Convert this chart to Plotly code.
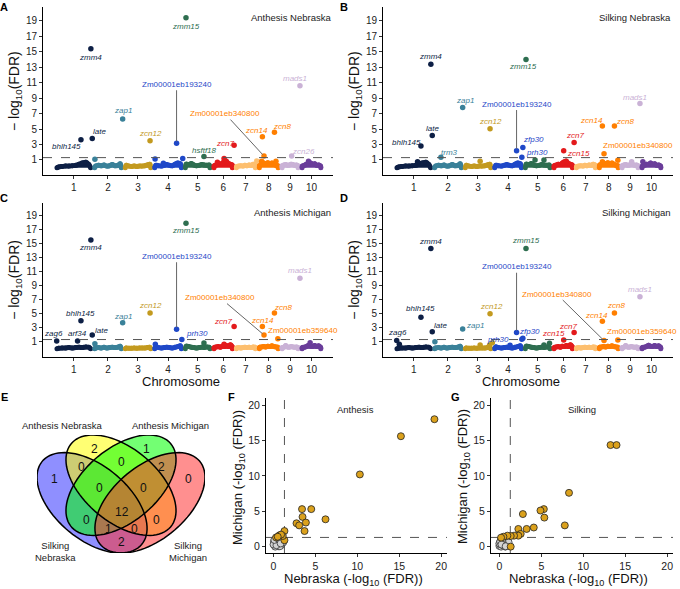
import numpy as np
import plotly.graph_objects as go

FONT = 'Liberation Sans, Arial, sans-serif'
W, H = 680, 589

# ---- chromosomes (Mb) ----
chrom_len = [300, 244, 234, 244, 228, 178, 183, 181, 159, 181]
chrom_col = ['#0D1F45', '#3A8199', '#C39A1F', '#1F48C8', '#2E6E50',
             '#E31A1C', '#FDBF6F', '#FF7F00', '#CAB2D6', '#6A3D9A']
chrom_lab = ['1', '2', '3', '4', '5', '6', '7', '8', '9', '10']

# ---- candidate genes: chromosome, position (Mb) ----
gene_names = ['zag6', 'arf34', 'bhlh145', 'zmm4', 'late', 'trm3', 'zap1', 'zcn12',
              'Zm00001eb193240', 'prh30', 'zfp30', 'zmm15', 'hsftf18', 'zcn15', 'zcn7',
              'zcn14', 'Zm00001eb340800', 'zcn8', 'Zm00001eb359640', 'zcn26', 'mads1']
gene_chr = [1, 1, 1, 1, 1, 2, 2, 3, 4, 4, 4, 5, 5, 6, 6, 8, 8, 8, 8, 9, 9]
gene_pos = [14, 180, 207, 286, 297, 66, 239, 213, 190, 232, 240, 21, 164, 93, 176,
            40, 53, 136, 163, 92, 158]

# -log10(FDR) of each gene per environment (None = not shown)
fdr_an_neb = [None, None, 3.6, 15.4, 3.76, None, 6.3, 3.5, 3.15, None, None, 19.4, 1.43,
              None, 2.9, 4.0, 1.5, 4.6, None, 1.5, 10.6]
fdr_si_neb = [None, None, 2.8, 13.4, 4.15, 1.35, 7.8, 5.05, 2.2, 1.35, 2.6, 14.0, None,
              2.2, 3.25, 5.4, 1.8, 5.4, None, None, 8.3]
fdr_an_mich = [1.1, 1.1, 4.0, 15.5, 1.95, None, 3.7, 5.1, 2.76, 1.3, None, 17.9, None,
               None, 3.15, 3.15, 1.95, 5.1, 1.43, None, 10.05]
fdr_si_mich = [1.15, None, 4.5, 14.3, 2.4, None, 2.8, 5.0, 2.3, 1.35, 1.5, 14.3, None,
               1.25, 2.3, 3.9, 1.15, 5.1, 1.25, None, 7.4]

# other SNPs poking out of the cloud
minor_an_neb_chr = [2, 4, 4, 4, 6, 6, 7, 8, 8, 10]
minor_an_neb_pos = [18, 19, 85, 239, 43, 96, 178, 34, 148, 67]
minor_an_neb_val = [1.1, 1.13, 0.57, 1.2, 0.7, 1.17, 0.87, 0.83, 0.83, 0.83]
minor_si_neb_chr = [1, 3, 5, 5, 8, 8, 9, 10]
minor_si_neb_pos = [180, 134, 93, 164, 40, 163, 92, 22]
minor_si_neb_val = [0.78, 0.83, 1.0, 1.0, 0.75, 0.96, 0.75, 0.78]
minor_an_mich_chr = [2, 4, 5, 6, 10]
minor_an_mich_pos = [18, 21, 164, 96, 80]
minor_an_mich_val = [0.7, 0.62, 0.81, 0.62, 0.86]
minor_si_mich_chr = [1, 2, 3, 3, 3, 4, 5, 5]
minor_si_mich_pos = [35, 18, 134, 209, 231, 138, 164, 208]
minor_si_mich_val = [0.62, 1.0, 0.52, 0.52, 0.86, 0.48, 0.52, 0.76]

# top of the non-significant SNP cloud along each chromosome
bg_frac = [0.1, 0.19, 0.28, 0.37, 0.46, 0.55, 0.64, 0.73, 0.82, 0.9]
bg_neb = [
    [0.1, 0.15, 0.2, 0.2, 0.25, 0.3, 0.45, 0.6, 0.7, 0.4],
    [0.2, 0.3, 0.25, 0.35, 0.2, 0.25, 0.4, 0.25, 0.3, 0.5],
    [0.3, 0.2, 0.15, 0.2, 0.15, 0.2, 0.2, 0.25, 0.35, 0.45],
    [0.3, 0.25, 0.2, 0.3, 0.4, 0.3, 0.25, 0.45, 0.6, 0.5],
    [0.45, 0.4, 0.55, 0.35, 0.25, 0.3, 0.4, 0.35, 0.3, 0.35],
    [0.25, 0.35, 0.45, 0.4, 0.6, 0.75, 0.85, 0.55, 0.45, 0.35],
    [0.15, 0.2, 0.25, 0.2, 0.3, 0.25, 0.35, 0.3, 0.45, 0.35],
    [0.35, 0.45, 0.6, 0.5, 0.65, 0.5, 0.6, 0.45, 0.3, 0.25],
    [0.25, 0.35, 0.4, 0.3, 0.35, 0.45, 0.4, 0.3, 0.35, 0.25],
    [0.2, 0.3, 0.45, 0.4, 0.6, 0.45, 0.5, 0.3, 0.35, 0.2],
]
bg_mich = [
    [0.05, 0.1, 0.1, 0.15, 0.1, 0.15, 0.2, 0.15, 0.25, 0.2],
    [0.1, 0.15, 0.1, 0.2, 0.1, 0.15, 0.2, 0.15, 0.2, 0.35],
    [0.1, 0.05, 0.05, 0.1, 0.05, 0.1, 0.1, 0.1, 0.15, 0.2],
    [0.25, 0.15, 0.1, 0.15, 0.2, 0.15, 0.1, 0.2, 0.3, 0.4],
    [0.35, 0.3, 0.2, 0.15, 0.1, 0.15, 0.2, 0.15, 0.25, 0.2],
    [0.15, 0.25, 0.3, 0.2, 0.35, 0.3, 0.45, 0.3, 0.55, 0.3],
    [0.1, 0.15, 0.1, 0.15, 0.2, 0.15, 0.2, 0.15, 0.25, 0.2],
    [0.2, 0.25, 0.3, 0.25, 0.35, 0.3, 0.4, 0.3, 0.25, 0.2],
    [0.15, 0.2, 0.45, 0.25, 0.2, 0.3, 0.25, 0.2, 0.25, 0.15],
    [0.15, 0.2, 0.3, 0.5, 0.35, 0.3, 0.45, 0.3, 0.4, 0.2],
]

# ---- F / G scatter: Nebraska vs Michigan ----
an_sig_neb = [19.2, 15.2, 10.3, 6.2, 4.5, 3.4, 3.46, 3.86, 2.74, 3.06, 3.7,
              1.3, 1.3, 1.1, 0.7, 0.3, 0.9, 0.5]
an_sig_mich = [18.0, 15.6, 10.2, 3.86, 5.3, 5.3, 4.2, 3.4, 3.3, 3.0, 2.2,
               2.2, 0.9, 1.5, 1.6, 1.3, 1.7, 1.4]
an_ns_neb = [0.1, 0.3, 0.5, 0.2, 0.6, 0.8, 0.4, 0.9, 0.15, 0.7, 1.0, 0.3, 0.55, 0.05, 1.1,
             0.8, 0.2, 0.0, 0.45, 0.65, 0.95, 0.25, 0.75, 1.15, 0.35, 0.1, 0.6, 0.85]
an_ns_mich = [0.2, 0.1, 0.4, 0.6, 0.8, 0.3, 0.9, 0.6, 0.35, 0.15, 0.5, 1.0, 0.05, 0.7, 0.9,
              1.05, 0.0, 0.3, 0.65, 0.5, 0.25, 0.85, 0.05, 0.6, 0.2, 0.95, 1.1, 0.45]
si_sig_neb = [13.25, 13.97, 8.3, 7.8, 5.3, 4.9, 5.36, 4.1, 3.25, 2.8, 2.26, 2.54,
              2.26, 1.75, 1.35, 0.95, 0.48, 0.2, 1.35]
si_sig_mich = [14.35, 14.35, 7.6, 3.0, 5.3, 5.1, 4.1, 2.7, 2.5, 4.6, 2.5, 1.8,
               1.55, 1.55, 1.5, 1.55, 1.4, 1.27, 0.0]
si_ns_neb = [0.0, 0.2, 0.4, 0.1, 0.6, 0.8, 0.3, 0.9, 0.05, 0.5, 1.0, 0.2, 0.7, 0.15, 1.1,
             0.4, 0.0, 0.3, 0.55, 0.1, 0.25, 0.75]
si_ns_mich = [0.1, 0.0, 0.3, 0.6, 0.5, 0.2, 0.9, 0.7, 0.4, 0.1, 0.4, 1.0, 0.0, 0.8, 0.6,
              0.55, 0.45, 0.85, 0.15, 0.7, 0.3, 0.05]

# ---- E: Venn diagram ----
venn_names = ['Silking<br>Nebraska', 'Anthesis Nebraska', 'Anthesis Michigan', 'Silking<br>Michigan']
venn_counts = [2, 1, 0, 0, 2, 1, 0, 0, 0, 12, 0, 0, 1, 0, 2]

venn_xy = [(0.365, 0.774), (0.633, 0.774), (0.296, 0.671), (0.504, 0.703), (0.711, 0.671),
           (0.158, 0.603), (0.848, 0.603), (0.388, 0.552), (0.615, 0.552), (0.504, 0.419),
           (0.319, 0.372), (0.685, 0.372), (0.434, 0.321), (0.569, 0.321), (0.504, 0.245)]
venn_ell = [(0.35, 0.47, -45, '#3333FF'), (0.5, 0.57, -45, '#FFFF00'),
            (0.5, 0.57, 45, '#00FF00'), (0.65, 0.47, 45, '#FF3333')]
venn_name_xy = [(55, 551), (62, 425), (170, 425), (188, 551)]

offs = np.concatenate([[0], np.cumsum(chrom_len)[:-1]])
centers = offs + np.array(chrom_len) / 2.0
inset = 16

fig = go.Figure()
annotations = []
shapes = []


def names(n):
    s = '' if n == 1 else str(n)
    return 'x' + s, 'y' + s, 'xaxis' + s, 'yaxis' + s


def px(x):
    return x / W


def py(y):
    return 1 - y / H


def note(x, y, text, size, color='#222', xref='paper', yref='paper', **kw):
    d = dict(x=x, y=y, xref=xref, yref=yref, text=text, showarrow=False,
             xanchor='center', yanchor='middle',
             font=dict(size=size, color=color, family=FONT))
    d.update(kw)
    annotations.append(d)


def manhattan(n, bg, vals, mchr, mpos, mval, labs, arrows, title, dom_x, dom_y, yr,
              ttl_y, xtitle):
    xr, yrf, xk, yk = names(n)
    for c in range(10):
        L = chrom_len[c]
        o = offs[c]
        xs = [o + inset] + [o + f * L for f in bg_frac] + [o + L - inset]
        ys = [0] + bg[c] + [0]
        fig.add_trace(go.Scatter(x=xs, y=ys, xaxis=xr, yaxis=yrf, mode='lines+markers',
                                 fill='toself', fillcolor=chrom_col[c],
                                 line=dict(color=chrom_col[c], width=5, shape='spline'),
                                 marker=dict(size=5, color=chrom_col[c]),
                                 hoverinfo='skip', showlegend=False))
    fig.add_trace(go.Scatter(x=[offs[c - 1] + p for c, p in zip(mchr, mpos)], y=mval,
                             xaxis=xr, yaxis=yrf, mode='markers',
                             marker=dict(size=5.5, color=[chrom_col[c - 1] for c in mchr]),
                             hoverinfo='skip', showlegend=False))
    gx, gy, gc = [], [], []
    for g, c, p, v in zip(gene_names, gene_chr, gene_pos, vals):
        if v is None:
            continue
        gx.append(offs[c - 1] + p)
        gy.append(v)
        gc.append(chrom_col[c - 1])
    fig.add_trace(go.Scatter(x=gx, y=gy, xaxis=xr, yaxis=yrf, mode='markers',
                             marker=dict(size=5.5, color=gc), showlegend=False))
    for g, c, p, v in zip(gene_names, gene_chr, gene_pos, vals):
        if v is None:
            continue
        txt = g if g.startswith('Zm0') else '<i>%s</i>' % g
        x = offs[c - 1] + p
        col = chrom_col[c - 1]
        if g in arrows:
            lx, ly = arrows[g]
            if lx is None:
                lx = x
            annotations.append(dict(x=x, y=v, xref=xr, yref=yrf, ax=lx, ay=ly,
                                    axref=xr, ayref=yrf, text=txt, showarrow=True,
                                    arrowhead=0, arrowwidth=1, arrowcolor='#666666',
                                    standoff=2, font=dict(size=8, color=col, family=FONT)))
        elif g in labs:
            dx, dy = labs[g]
            note(x, v, txt, 8, col, xref=xr, yref=yrf, xshift=dx, yshift=dy)
    shapes.append(dict(type='line', xref=xr + ' domain', yref=yrf, x0=0, x1=1, y0=1.3, y1=1.3,
                       line=dict(color='#555555', width=1, dash='dash')))
    note(dom_x[1], py(ttl_y), title, 9.5, xanchor='right')
    note(px(W * dom_x[0] - 28), (dom_y[0] + dom_y[1]) / 2, '\u2212 log<sub>10</sub>(FDR)',
         14, '#111', textangle=-90)
    if xtitle:
        note((dom_x[0] + dom_x[1]) / 2 - 0.01, py(381.5), 'Chromosome', 13, '#111')
    fig.layout[xk] = dict(domain=dom_x, range=[-95, 2213], showgrid=False, zeroline=False,
                          showline=True, linecolor='black', linewidth=1, ticks='outside',
                          ticklen=3, tickcolor='#333', tickvals=list(centers),
                          ticktext=chrom_lab, anchor=yrf,
                          tickfont=dict(size=10, color='#222', family=FONT))
    fig.layout[yk] = dict(domain=dom_y, range=yr, showgrid=False, zeroline=False,
                          showline=True, linecolor='black', linewidth=1, ticks='outside',
                          ticklen=3, tickcolor='#333', tickvals=list(range(1, 21, 2)),
                          anchor=xr, tickfont=dict(size=10, color='#222', family=FONT))


lab_an_neb = {'bhlh145': (-14, -7), 'zmm4': (0, -9), 'late': (7, 7), 'zap1': (0, 9),
              'zcn12': (0, 7), 'zmm15': (0, -9), 'hsftf18': (1, 6), 'zcn7': (-9, 2),
              'zcn14': (-6, 6), 'zcn8': (8, 6), 'mads1': (-5, 7), 'zcn26': (12, 5)}
arr_an_neb = {'Zm00001eb193240': (None, 10.8), 'Zm00001eb340800': (1353, 7.0)}
lab_si_neb = {'zmm4': (0, 8), 'late': (0, 7), 'bhlh145': (-14, 4), 'trm3': (9, 5),
              'zap1': (2, 7), 'zcn12': (0, 7), 'zfp30': (11, 8), 'prh30': (15, 5),
              'zmm15': (-3, -7), 'zcn7': (1, 7), 'zcn15': (15, -3), 'zcn14': (-11, 5),
              'zcn8': (11, 4), 'Zm00001eb340800': (34, 8), 'mads1': (-5, 6)}
arr_si_neb = {'Zm00001eb193240': (None, 8.24)}
lab_an_mich = {'zmm4': (0, -7), 'zmm15': (0, -7), 'mads1': (0, 8), 'zcn12': (0, 7),
               'zcn8': (9, 5), 'bhlh145': (0, 7), 'zap1': (0, 6), 'zcn7': (-11, 5),
               'zcn14': (0, 6), 'Zm00001eb359640': (25, 8), 'late': (9, 4),
               'arf34': (0, 7), 'zag6': (-3, 7), 'prh30': (15, 6)}
arr_an_mich = {'Zm00001eb193240': (None, 13.2), 'Zm00001eb340800': (1313, 7.29)}
lab_si_mich = {'zmm4': (0, 7), 'zmm15': (0, 8), 'mads1': (0, 7), 'zcn8': (2, 7),
               'bhlh145': (0, 9), 'zcn12': (1, 7), 'zcn14': (-6, 6), 'zap1': (12, 4),
               'late': (8, 6), 'zcn7': (-6, 6), 'zcn15': (-10, 6), 'zfp30': (7, 7),
               'prh30': (-24, 0), 'Zm00001eb359640': (24, 8), 'zag6': (1, 8)}
arr_si_mich = {'Zm00001eb193240': (None, 11.7), 'Zm00001eb340800': (1287, 7.8)}

dxA = [px(43), px(333)]
dxB = [px(383), px(673)]
dyA = [py(175), py(7)]
dyC = [py(356.7), py(203)]
manhattan(1, bg_neb, fdr_an_neb, minor_an_neb_chr, minor_an_neb_pos, minor_an_neb_val,
          lab_an_neb, arr_an_neb, 'Anthesis Nebraska', dxA, dyA, [-0.95, 20.8], 17, False)
manhattan(2, bg_neb, fdr_si_neb, minor_si_neb_chr, minor_si_neb_pos, minor_si_neb_val,
          lab_si_neb, arr_si_neb, 'Silking Nebraska', dxB, dyA, [-0.95, 20.8], 17, False)
manhattan(3, bg_mich, fdr_an_mich, minor_an_mich_chr, minor_an_mich_pos, minor_an_mich_val,
          lab_an_mich, arr_an_mich, 'Anthesis Michigan', dxA, dyC, [-1.15, 20.8], 213, True)
manhattan(4, bg_mich, fdr_si_mich, minor_si_mich_chr, minor_si_mich_pos, minor_si_mich_val,
          lab_si_mich, arr_si_mich, 'Silking Michigan', dxB, dyC, [-1.15, 20.8], 213, True)

# ---- Venn ----
t = np.linspace(0, 2 * np.pi, 90)
paths = []
for cx, cy, ang, col in venn_ell:
    a = np.deg2rad(ang)
    ex = cx + 0.35 * np.cos(t) * np.cos(a) - 0.2 * np.sin(t) * np.sin(a)
    ey = cy + 0.35 * np.cos(t) * np.sin(a) + 0.2 * np.sin(t) * np.cos(a)
    paths.append('M ' + ' L '.join('%.4f,%.4f' % (u, v) for u, v in zip(ex, ey)) + ' Z')
for path, (cx, cy, ang, col) in zip(paths, venn_ell):
    shapes.append(dict(type='path', path=path, xref='x5', yref='y5', fillcolor=col,
                       opacity=0.55, line=dict(width=0), layer='above'))
for path in paths:
    shapes.append(dict(type='path', path=path, xref='x5', yref='y5',
                       line=dict(width=1.5, color='black'), layer='above'))
for (vx, vy), cnt in zip(venn_xy, venn_counts):
    note(vx, vy, str(cnt), 12, '#111', xref='x5', yref='y5')
for nm, (nx, ny) in zip(venn_names, venn_name_xy):
    note(px(nx), py(ny), nm, 9.5)
fig.layout['xaxis5'] = dict(domain=[px(37), px(205)], range=[0.065, 0.935], visible=False,
                            anchor='y5', fixedrange=True)
fig.layout['yaxis5'] = dict(domain=[py(553), py(435)], range=[0.185, 0.855], visible=False,
                            anchor='x5', fixedrange=True)


# ---- scatter panels ----
def scatter(n, sx, sy, nx, ny, title, dom_x, xrng, ttl_x):
    xr, yrf, xk, yk = names(n)
    fig.add_trace(go.Scatter(x=nx, y=ny, xaxis=xr, yaxis=yrf, mode='markers',
                             marker=dict(size=7, color='#D3D3D3',
                                         line=dict(color='#333', width=0.8)),
                             showlegend=False))
    fig.add_trace(go.Scatter(x=sx, y=sy, xaxis=xr, yaxis=yrf, mode='markers',
                             marker=dict(size=7, color='#DBA11C',
                                         line=dict(color='#222', width=0.8)),
                             showlegend=False))
    shapes.append(dict(type='line', xref=xr, yref=yrf + ' domain', x0=1.3, x1=1.3, y0=0, y1=1,
                       line=dict(color='#555555', width=1, dash='dash'), layer='below'))
    shapes.append(dict(type='line', xref=xr + ' domain', yref=yrf, x0=0, x1=1, y0=1.3, y1=1.3,
                       line=dict(color='#555555', width=1, dash='dash'), layer='below'))
    note(9.8, 19.4, title, 9.5, xref=xr, yref=yrf)
    note((dom_x[0] + dom_x[1]) / 2 - 0.005, py(579), 'Nebraska (-log<sub>10</sub> (FDR))',
         13, '#111')
    note(px(ttl_x), py(477), 'Michigan (-log<sub>10</sub> (FDR))', 13, '#111',
         textangle=-90)
    ax_style = dict(showgrid=False, zeroline=False, showline=True, linecolor='black',
                    linewidth=1, ticks='outside', ticklen=3, tickcolor='#333',
                    tickvals=[0, 5, 10, 15, 20],
                    tickfont=dict(size=10.5, color='#222', family=FONT))
    fig.layout[xk] = dict(domain=dom_x, range=xrng, anchor=yrf, **ax_style)
    fig.layout[yk] = dict(domain=[py(553), py(398)], range=[-0.9, 21], anchor=xr, **ax_style)


scatter(6, an_sig_neb, an_sig_mich, an_ns_neb, an_ns_mich, 'Anthesis',
        [px(266), px(447)], [-0.9, 20.7], 238)
scatter(7, si_sig_neb, si_sig_mich, si_ns_neb, si_ns_mich, 'Silking',
        [px(491), px(673)], [-1.0, 20.7], 463)

# panel letters
for letter, lx, ly in [('A', 4, 7), ('B', 344, 7), ('C', 4, 198), ('D', 344, 198),
                       ('E', 4, 397), ('F', 231, 397), ('G', 456, 397)]:
    note(px(lx), py(ly), '<b>%s</b>' % letter, 11, 'black')

fig.update_layout(width=W, height=H, margin=dict(l=0, r=0, t=0, b=0),
                  paper_bgcolor='white', plot_bgcolor='white',
                  annotations=annotations, shapes=shapes, showlegend=False,
                  font=dict(family=FONT))

fig.write_html('out.html', config={'displayModeBar': False},
               post_script="document.body.style.margin='0';")
